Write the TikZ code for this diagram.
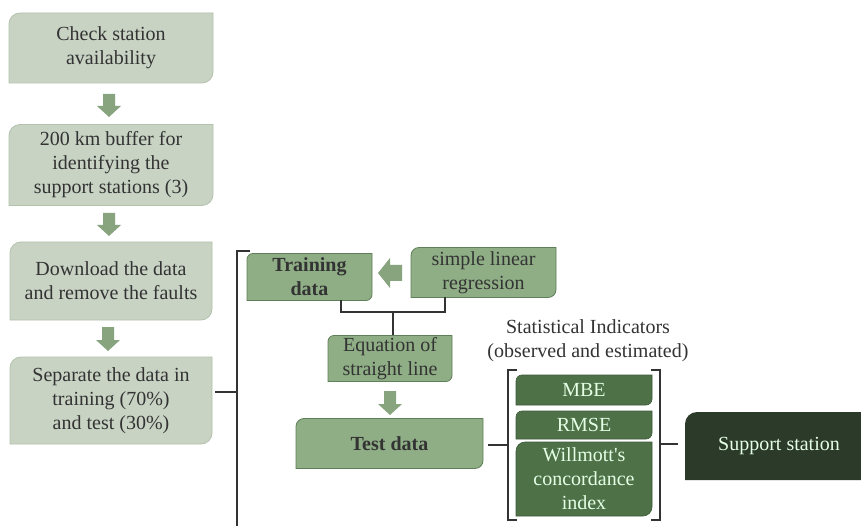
\documentclass[tikz,border=0pt]{standalone}
\usepackage{fontspec}
\setmainfont{Liberation Serif}
\usetikzlibrary{backgrounds}
\definecolor{lightf}{HTML}{C8D3C4}
\definecolor{lightd}{HTML}{B3C2AD}
\definecolor{medf}{HTML}{8FAE86}
\definecolor{medd}{HTML}{5F7F58}
\definecolor{statf}{HTML}{4E7148}
\definecolor{supf}{HTML}{2B3A29}
\definecolor{arrowf}{HTML}{87A47F}
\definecolor{txtd}{HTML}{333333}
\definecolor{brkc}{HTML}{333333}
\newcommand\blockdown[3]{\fill[arrowf] (#1-6,#2) -- (#1+6,#2) -- (#1+6,#3-11) -- (#1+12,#3-11) -- (#1,#3) -- (#1-12,#3-11) -- (#1-6,#3-11) -- cycle;}
\begin{document}
\begin{tikzpicture}[x=1pt,y=-1pt,
  every node/.style={inner sep=0pt,outer sep=0pt,align=center,font=\fontsize{20}{24}\selectfont},
  lighttxt/.style={text=txtd},
  medtxt/.style={text=txtd},
  whitetxt/.style={text=white!90!green},
  lightbox/.style={fill=lightf,draw=lightd,line width=0.8pt},
  medbox/.style={fill=medf,draw=medd,line width=0.8pt},
  statbox/.style={fill=statf,draw=statf!80!black,line width=0.6pt},
  supbox/.style={fill=supf},
  brk/.style={draw=brkc,line width=1.8pt},
]
\clip (0,0) rectangle (861,526);
% left column
\node[lighttxt,minimum width=204pt,minimum height=70pt] (b1) at (111,48) {Check station\\availability};
\node[lighttxt,minimum width=204pt,minimum height=81pt] (b2) at (111,165) {200 km buffer for\\identifying the\\support stations (3)};
\node[lighttxt,minimum width=202pt,minimum height=78pt] (b3) at (111,281) {Download the data\\and remove the faults};
\node[lighttxt,minimum width=202pt,minimum height=87pt] (b4) at (111,400.5) {Separate the data in\\training (70\%)\\and test (30\%)};
% middle
\node[medtxt,minimum width=125pt,minimum height=47pt] (tr) at (309.5,277) {\textbf{Training}\\\textbf{data}};
\node[medtxt,minimum width=145pt,minimum height=50pt] (rg) at (483.5,272.5) {simple linear\\regression};
\node[medtxt,minimum width=124pt,minimum height=46pt] (eq) at (390,358.5) {Equation of\\straight line};
\node[medtxt,minimum width=187pt,minimum height=50pt] (td) at (389.5,443.5) {\textbf{Test data}};
% stats
\node[text=txtd] (st) at (588,341) {Statistical Indicators\\(observed and estimated)};
\node[whitetxt,minimum width=136pt,minimum height=30pt] (mbe) at (584,390) {MBE};
\node[whitetxt,minimum width=136pt,minimum height=28pt] (rmse) at (584,425) {RMSE};
\node[whitetxt,minimum width=136pt,minimum height=74pt] (wil) at (584,479) {Willmott\textquotesingle s\\concordance\\index};
\node[whitetxt,minimum width=188pt,minimum height=68pt] (sup) at (779,446) {Support station};
% shapes
\begin{scope}[on background layer]
\fill[white] (0,0) rectangle (861,526);
\foreach \n/\s/\r in {b1/lightbox/11,b2/lightbox/11,b3/lightbox/11,b4/lightbox/11,tr/medbox/6,rg/medbox/8,eq/medbox/6,td/medbox/8,mbe/statbox/6,rmse/statbox/6,wil/statbox/9,sup/supbox/12}
  \path[\s] ([yshift=-\r pt]\n.north west) arc[start angle=180,end angle=90,radius=\r pt] -- (\n.north east) -- ([yshift=\r pt]\n.south east) arc[start angle=0,end angle=-90,radius=\r pt] -- (\n.south west) -- cycle;
\end{scope}
% block arrows
\blockdown{109}{94}{117}
\blockdown{109}{213}{236}
\blockdown{108}{327}{351}
\blockdown{390}{391}{415}
\fill[arrowf] (402,265) -- (402,281) -- (390,281) -- (390,288) -- (378,273) -- (390,258) -- (390,265) -- cycle;
% brackets
\coordinate (t4) at (215,392);
\draw[brk] (t4) -- (237,392);
\draw[brk] (250,251) -- (237,251) -- (237,540);
\draw[brk] (341,300) -- (341,312) -- (445,312) -- (445,297);
\draw[brk] (393,312) -- (393,335);
\draw[brk] (488,445) -- (508,445);
\draw[brk] (517,370) -- (508,370) -- (508,520) -- (517,520);
\draw[brk] (651,370) -- (660,370) -- (660,520) -- (651,520);
\draw[brk] (660,444) -- (678,444);
\end{tikzpicture}
\end{document}
